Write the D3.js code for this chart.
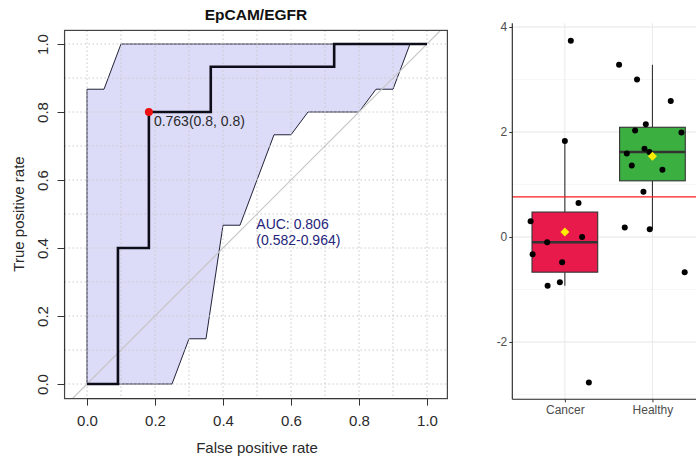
<!DOCTYPE html>
<html>
<head>
<meta charset="utf-8">
<script src="https://cdn.jsdelivr.net/npm/d3@7"></script>
<style>
  html, body { margin: 0; padding: 0; background: #fff; }
  svg { display: block; font-family: "Liberation Sans", Arial, sans-serif; }
</style>
</head>
<body>
<svg id="chart" width="696" height="459"></svg>
<script>
// ---- ROC curve (EpCAM/EGFR) ----
const rocFpr = [0, 0.091, 0.091, 0.182, 0.182, 0.364, 0.364, 0.727, 0.727, 1.0];
const rocTpr = [0, 0, 0.4, 0.4, 0.8, 0.8, 0.933, 0.933, 1.0, 1.0];

// confidence band of sensitivity, sampled on a false-positive-rate grid
const ciFpr = [0, 0.05, 0.1, 0.15, 0.2, 0.25, 0.3, 0.35, 0.4, 0.45, 0.5,
               0.55, 0.6, 0.65, 0.7, 0.75, 0.8, 0.85, 0.9, 0.95, 1.0];
const ciUpper = [0.867, 0.867, 1, 1, 1, 1, 1, 1, 1, 1, 1,
                 1, 1, 1, 1, 1, 1, 1, 1, 1, 1];
const ciLower = [0, 0, 0, 0, 0, 0, 0.133, 0.133, 0.467, 0.467, 0.6,
                 0.733, 0.733, 0.8, 0.8, 0.8, 0.8, 0.867, 0.867, 1, 1];

const bestThreshold = 0.763;
const bestPoint = { fpr: 0.182, tpr: 0.8, spec: 0.8, sens: 0.8 };
const aucValue = 0.806;
const aucCI = [0.582, 0.964];
const rocTicks = [0, 0.2, 0.4, 0.6, 0.8, 1.0];
const rocGrid = [0, 0.1, 0.2, 0.3, 0.4, 0.5, 0.6, 0.7, 0.8, 0.9, 1.0];

// ---- Expression by group ----
const groups = ["Cancer", "Healthy"];
const cancerValues = [3.74, 1.83, 0.65, 0.30, 0.00, -0.10, -0.33, -0.48, -0.86, -0.93, -2.77];
const cancerJitter = [0.068, 0, 0.156, -0.391, 0.197, -0.202, -0.368, -0.031, -0.057, -0.197, 0.274];
const healthyValues = [3.28, 3.00, 2.59, 2.15, 2.03, 1.99, 1.68, 1.62, 1.59, 1.36, 1.28, 0.86, 0.18, 0.15, -0.67];
const healthyJitter = [-0.381, -0.176, 0.209, -0.076, -0.198, 0.331, -0.091, -0.034, -0.293, -0.236, 0.114, -0.103, -0.316, -0.031, 0.368];
const groupColors = ["#e8194b", "#3bb041"];
const boxTicks = [-2, 0, 2, 4];
const boxMinor = [-3, -1, 1, 3];

const svg = d3.select("#chart");

// ================= left panel: ROC =================
const x = d3.scaleLinear().domain([0, 1]).range([87, 427]);
const y = d3.scaleLinear().domain([0, 1]).range([384, 44]);
const frame = { x0: x(-0.066), x1: x(1.06), y0: y(1.04), y1: y(-0.043) };

svg.append("defs").append("clipPath").attr("id", "rocClip")
  .append("rect")
  .attr("x", frame.x0).attr("y", frame.y0)
  .attr("width", frame.x1 - frame.x0).attr("height", frame.y1 - frame.y0);

const roc = svg.append("g");

// confidence band
const band = d3.area()
  .x((d, i) => x(ciFpr[i]))
  .y0((d, i) => y(ciLower[i]))
  .y1((d, i) => y(ciUpper[i]));
roc.append("path")
  .attr("d", band(ciFpr))
  .attr("fill", "#dcdcf9")
  .attr("stroke", "#22223a")
  .attr("stroke-width", 1);

// dotted grid
const grid = roc.append("g").attr("stroke", "#c8c8c8").attr("stroke-width", 1)
  .attr("stroke-dasharray", "1.5,2.5");
grid.selectAll("line.v").data(rocGrid).join("line")
  .attr("x1", d => x(d)).attr("x2", d => x(d))
  .attr("y1", frame.y0).attr("y2", frame.y1);
grid.selectAll("line.h").data(rocGrid).join("line")
  .attr("y1", d => y(d)).attr("y2", d => y(d))
  .attr("x1", frame.x0).attr("x2", frame.x1);

// chance diagonal
roc.append("line")
  .attr("clip-path", "url(#rocClip)")
  .attr("x1", x(-0.2)).attr("y1", y(-0.2))
  .attr("x2", x(1.2)).attr("y2", y(1.2))
  .attr("stroke", "#c6c6c6").attr("stroke-width", 1.2);

// ROC curve
const rocLine = d3.line().x((d, i) => x(rocFpr[i])).y((d, i) => y(rocTpr[i]));
roc.append("path")
  .attr("d", rocLine(rocFpr))
  .attr("fill", "none")
  .attr("stroke", "#0d0d1a")
  .attr("stroke-width", 2.6)
  .attr("stroke-linejoin", "miter");

// best threshold
roc.append("circle")
  .attr("cx", x(bestPoint.fpr)).attr("cy", y(bestPoint.tpr)).attr("r", 4)
  .attr("fill", "#ee1111");
roc.append("text")
  .attr("x", x(bestPoint.fpr) + 5).attr("y", y(bestPoint.tpr) + 14)
  .attr("font-size", 14).attr("fill", "#2a2a2a")
  .text(`${bestThreshold}(${bestPoint.spec}, ${bestPoint.sens})`);

// AUC annotation
const aucText = roc.append("text").attr("font-size", 14).attr("fill", "#25257a");
aucText.append("tspan").attr("x", x(0.498)).attr("y", y(0.455)).text(`AUC: ${aucValue}`);
aucText.append("tspan").attr("x", x(0.498)).attr("y", y(0.408)).text(`(${aucCI[0]}-${aucCI[1]})`);

// frame
roc.append("rect")
  .attr("x", frame.x0).attr("y", frame.y0)
  .attr("width", frame.x1 - frame.x0).attr("height", frame.y1 - frame.y0)
  .attr("fill", "none").attr("stroke", "#444").attr("stroke-width", 1.2);

// axes
const xAxis = roc.append("g").attr("transform", `translate(0,${frame.y1})`)
  .call(d3.axisBottom(x).tickValues(rocTicks).tickFormat(d3.format(".1f")).tickSize(7).tickPadding(10));
xAxis.select(".domain").attr("d", `M${x(0)},0H${x(1)}`).attr("stroke", "#333");
xAxis.selectAll(".tick line").attr("stroke", "#333");
xAxis.selectAll("text").attr("font-size", 15).attr("fill", "#2a2a2a")
  .attr("font-family", "Liberation Sans, Arial, sans-serif");

const yAxis = roc.append("g").attr("transform", `translate(${frame.x0},0)`)
  .call(d3.axisLeft(y).tickValues(rocTicks).tickFormat(d3.format(".1f")).tickSize(7).tickPadding(0));
yAxis.select(".domain").attr("d", `M0,${y(0)}V${y(1)}`).attr("stroke", "#333");
yAxis.selectAll(".tick line").attr("stroke", "#333");
yAxis.selectAll("text")
  .attr("font-size", 15).attr("fill", "#2a2a2a")
  .attr("font-family", "Liberation Sans, Arial, sans-serif")
  .attr("text-anchor", "middle").attr("dy", 0)
  .attr("x", 0).attr("y", 0)
  .attr("transform", "translate(-17,0) rotate(-90)");

roc.append("text")
  .attr("x", (x(0) + x(1)) / 2).attr("y", 453)
  .attr("text-anchor", "middle").attr("font-size", 15).attr("fill", "#2a2a2a")
  .text("False positive rate");
roc.append("text")
  .attr("transform", `translate(24,${(y(0) + y(1)) / 2}) rotate(-90)`)
  .attr("text-anchor", "middle").attr("font-size", 15).attr("fill", "#2a2a2a")
  .text("True positive rate");
roc.append("text")
  .attr("x", 256).attr("y", 20)
  .attr("text-anchor", "middle").attr("font-size", 15.5).attr("font-weight", "bold")
  .attr("fill", "#111")
  .text("EpCAM/EGFR");

// ================= right panel: box plot =================
const panel = { x0: 512.3, x1: 705, y0: 23.3, y1: 399.3 };
const gx = d3.scalePoint().domain(groups).range([panel.x0, panel.x1]).padding(0.6);
const gy = d3.scaleLinear().domain([0, 2]).range([237, 132]);
const step = gx.step();
const boxW = step * 0.75;

const bp = svg.append("g");

// grid
bp.selectAll("line.minor").data(boxMinor).join("line")
  .attr("x1", panel.x0).attr("x2", panel.x1)
  .attr("y1", d => gy(d)).attr("y2", d => gy(d))
  .attr("stroke", "#f2f2f2").attr("stroke-width", 0.6);
bp.selectAll("line.major").data(boxTicks).join("line")
  .attr("x1", panel.x0).attr("x2", panel.x1)
  .attr("y1", d => gy(d)).attr("y2", d => gy(d))
  .attr("stroke", "#e6e6e6").attr("stroke-width", 1.1);
bp.selectAll("line.vgrid").data(groups).join("line")
  .attr("x1", d => gx(d)).attr("x2", d => gx(d))
  .attr("y1", panel.y0).attr("y2", panel.y1)
  .attr("stroke", "#ebebeb").attr("stroke-width", 1.1);

const series = [
  { name: "Cancer", values: cancerValues, jitter: cancerJitter, color: groupColors[0] },
  { name: "Healthy", values: healthyValues, jitter: healthyJitter, color: groupColors[1] }
];

series.forEach(s => {
  const sorted = s.values.slice().sort(d3.ascending);
  const q1 = d3.quantile(sorted, 0.25);
  const med = d3.quantile(sorted, 0.5);
  const q3 = d3.quantile(sorted, 0.75);
  const iqr = q3 - q1;
  const lo = d3.min(sorted.filter(v => v >= q1 - 1.5 * iqr));
  const hi = d3.max(sorted.filter(v => v <= q3 + 1.5 * iqr));
  const mean = d3.mean(sorted);
  const cx = gx(s.name);
  const g = bp.append("g");

  g.append("line").attr("x1", cx).attr("x2", cx).attr("y1", gy(q3)).attr("y2", gy(hi))
    .attr("stroke", "#333").attr("stroke-width", 1.1);
  g.append("line").attr("x1", cx).attr("x2", cx).attr("y1", gy(q1)).attr("y2", gy(lo))
    .attr("stroke", "#333").attr("stroke-width", 1.1);
  g.append("rect")
    .attr("x", cx - boxW / 2).attr("y", gy(q3))
    .attr("width", boxW).attr("height", gy(q1) - gy(q3))
    .attr("fill", s.color).attr("stroke", "#333").attr("stroke-width", 1.1);
  g.append("line").attr("x1", cx - boxW / 2).attr("x2", cx + boxW / 2)
    .attr("y1", gy(med)).attr("y2", gy(med))
    .attr("stroke", "#333").attr("stroke-width", 2.4);

  g.selectAll("circle").data(s.values).join("circle")
    .attr("cx", (d, i) => cx + s.jitter[i] * step)
    .attr("cy", d => gy(d))
    .attr("r", 3)
    .attr("fill", "#000");

  const dm = 4.5;
  g.append("path")
    .attr("d", `M${cx},${gy(mean) - dm}L${cx + dm},${gy(mean)}L${cx},${gy(mean) + dm}L${cx - dm},${gy(mean)}Z`)
    .attr("fill", "#ffec00");
});

// cutoff line
bp.append("line")
  .attr("x1", panel.x0).attr("x2", panel.x1)
  .attr("y1", gy(bestThreshold)).attr("y2", gy(bestThreshold))
  .attr("stroke", "#ff1a1a").attr("stroke-width", 1.3);

// axes
const byAxis = bp.append("g").attr("transform", `translate(${panel.x0},0)`)
  .call(d3.axisLeft(gy).tickValues(boxTicks).tickFormat(d => String(d)).tickSize(3).tickPadding(2));
byAxis.select(".domain").attr("d", `M0,${panel.y0}V${panel.y1}`).attr("stroke", "#222").attr("stroke-width", 1.1);
byAxis.selectAll(".tick line").attr("stroke", "#333");
byAxis.selectAll("text").attr("font-size", 12).attr("fill", "#4d4d4d")
  .attr("font-family", "Liberation Sans, Arial, sans-serif");

const bxAxis = bp.append("g").attr("transform", `translate(0,${panel.y1})`)
  .call(d3.axisBottom(gx).tickSize(3).tickPadding(3));
bxAxis.select(".domain").attr("d", `M${panel.x0},0H${panel.x1}`).attr("stroke", "#222").attr("stroke-width", 1.1);
bxAxis.selectAll(".tick line").attr("stroke", "#333");
bxAxis.selectAll("text").attr("font-size", 12).attr("fill", "#4d4d4d")
  .attr("font-family", "Liberation Sans, Arial, sans-serif");
</script>
</body>
</html>
